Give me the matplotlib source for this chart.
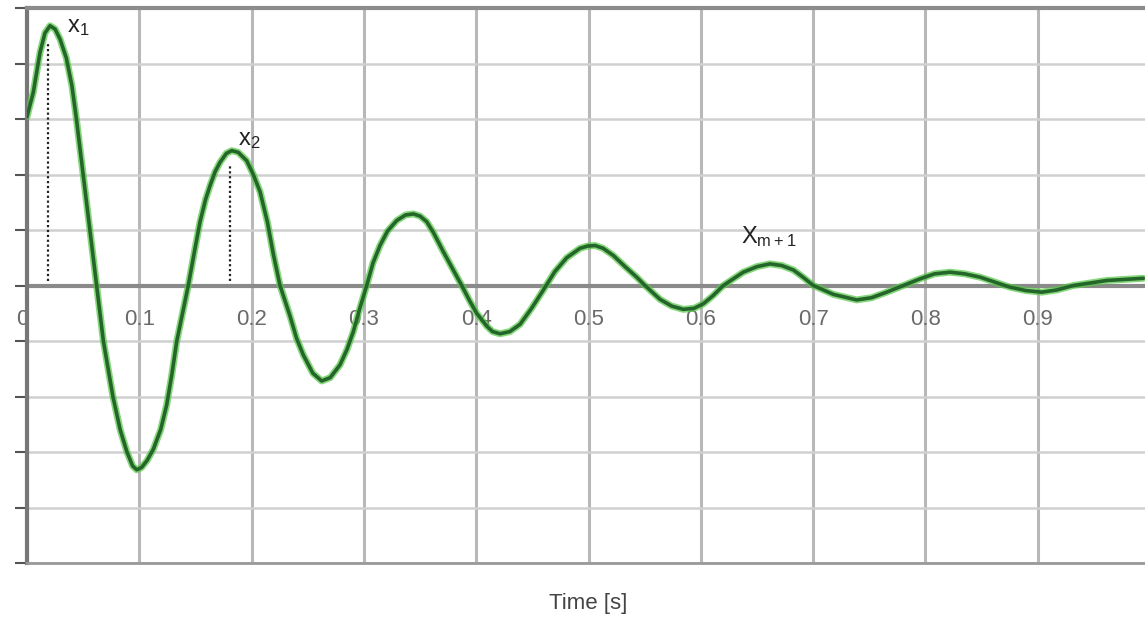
import numpy as np
import matplotlib
matplotlib.use("Agg")
import matplotlib.pyplot as plt

plt.rcParams['font.family'] = ['Liberation Sans', 'DejaVu Sans']

# pontos (tempo em s, deslocamento em unidades da grade)
tempo = [0.0, 0.0056, 0.0116, 0.016, 0.0205, 0.025, 0.0294, 0.035, 0.040, 0.044,
         0.050, 0.056, 0.062, 0.068, 0.0765, 0.083, 0.089, 0.094, 0.0977, 0.102,
         0.107, 0.1125, 0.119, 0.1244, 0.129, 0.1333, 0.1385, 0.1436, 0.149, 0.1541,
         0.159, 0.163, 0.1675, 0.1719, 0.1775, 0.1823, 0.188, 0.1956, 0.2015, 0.2075,
         0.214, 0.2195, 0.2253, 0.2342, 0.240, 0.246, 0.2545, 0.2624, 0.27, 0.2787,
         0.285, 0.2906, 0.2965, 0.3025, 0.308, 0.3143, 0.321, 0.3292, 0.337, 0.344,
         0.35, 0.3559, 0.362, 0.3707, 0.379, 0.3871, 0.394, 0.4004, 0.4093, 0.4145,
         0.4212, 0.43, 0.439, 0.449, 0.4598, 0.47, 0.4806, 0.4924, 0.499, 0.5058,
         0.513, 0.5221, 0.532, 0.5429, 0.5503, 0.5637, 0.574, 0.5844, 0.594, 0.6022,
         0.611, 0.62, 0.6378, 0.65, 0.6616, 0.672, 0.6824, 0.691, 0.7002, 0.718,
         0.7388, 0.752, 0.7655, 0.7952, 0.808, 0.8219, 0.835, 0.8486, 0.8753, 0.889,
         0.9036, 0.917, 0.9317, 0.9614, 0.994]
desloc = [3.04, 3.48, 4.2, 4.55, 4.68, 4.62, 4.44, 4.1, 3.6, 3.0,
          2.0, 1.0, 0.0, -1.0, -2.0, -2.6, -3.0, -3.25, -3.32, -3.28,
          -3.15, -2.95, -2.6, -2.15, -1.6, -1.01, -0.5, 0.0, 0.6, 1.15,
          1.55, 1.8, 2.05, 2.22, 2.38, 2.43, 2.4, 2.25, 2.0, 1.69,
          1.15, 0.55, 0.0, -0.55, -0.95, -1.25, -1.58, -1.72, -1.66, -1.43,
          -1.15, -0.83, -0.4, 0.0, 0.4, 0.72, 0.98, 1.17, 1.27, 1.29,
          1.25, 1.15, 0.95, 0.61, 0.3, 0.0, -0.27, -0.5, -0.73, -0.83,
          -0.87, -0.83, -0.7, -0.42, -0.08, 0.25, 0.5, 0.67, 0.71, 0.72,
          0.67, 0.54, 0.35, 0.15, 0.0, -0.25, -0.37, -0.43, -0.41, -0.33,
          -0.18, 0.0, 0.24, 0.34, 0.39, 0.36, 0.28, 0.15, 0.0, -0.16,
          -0.26, -0.22, -0.12, 0.12, 0.21, 0.24, 0.21, 0.15, -0.03, -0.09,
          -0.12, -0.08, 0.0, 0.09, 0.13]

# linhas pontilhadas dos picos x1 e x2
picos_t = [0.0185, 0.1808]
picos_y = [4.39, 2.16]
rotulos_picos = [r"$\mathregular{x_1}$", r"$\mathregular{x_2}$", r"$\mathregular{X_{m+1}}$"]
rotulos_t = [0.036, 0.188, 0.636]
rotulos_y = [4.66, 2.62, 0.88]

ticks_x = [0.0, 0.1, 0.2, 0.3, 0.4, 0.5, 0.6, 0.7, 0.8, 0.9]
nomes_x = ["0", "0.1", "0.2", "0.3", "0.4", "0.5", "0.6", "0.7", "0.8", "0.9"]
ticks_y = [-5, -4, -3, -2, -1, 0, 1, 2, 3, 4, 5]

fig = plt.figure(figsize=(11.45, 6.22), dpi=100)
ax = fig.add_axes([27 / 1145, 59 / 622, 1 - 27 / 1145, 555 / 622])
ax.set_xlim(0, 0.9955)
ax.set_ylim(-5, 5)

# grade
ax.set_xticks(ticks_x)
ax.set_yticks(ticks_y)
ax.set_xticklabels([])
ax.set_yticklabels([])
ax.grid(axis="x", color="#b8b8b8", lw=2.2)
ax.grid(axis="y", color="#d0d0d0", lw=1.8)
ax.set_axisbelow(True)
ax.tick_params(axis="x", length=0)
ax.tick_params(axis="y", length=9, width=1.5, color="#555555", direction="out")
ax.axhline(0, color="#8a8a8a", lw=3, zorder=1.5)

ax.spines["right"].set_visible(False)
ax.spines["left"].set_color("#777777")
ax.spines["left"].set_linewidth(3)
ax.spines["top"].set_color("#8c8c8c")
ax.spines["top"].set_linewidth(3)
ax.spines["bottom"].set_color("#999999")
ax.spines["bottom"].set_linewidth(2)

# curva
ax.plot(tempo, desloc, color="#55c845", lw=5, alpha=0.7, solid_capstyle="round",
        solid_joinstyle="round", zorder=3)
ax.plot(tempo, desloc, color="#24662a", lw=2.6, solid_capstyle="round",
        solid_joinstyle="round", zorder=4)

for t, y in zip(picos_t, picos_y):
    ax.plot([t, t], [0.08, y], color="#222222", lw=1.6, ls=(0, (1, 1.2)), zorder=2.5)

for nome, t, y in zip(rotulos_picos, rotulos_t, rotulos_y):
    ax.text(t, y, nome, fontsize=17, color="#222222", ha="left", va="center", zorder=5)

# rotulos do eixo x sobre a linha do zero
for t, nome in zip(ticks_x, nomes_x):
    xx = t - 0.004 if t == 0 else t
    ax.text(xx, -0.62, nome, fontsize=16, color="#6a6a6a", ha="center", va="center", zorder=2)

fig.text(588 / 1145, 1 - 603 / 622, "Time [s]", fontsize=16, color="#444444",
         ha="center", va="center")

plt.savefig("out.png", dpi=100)
